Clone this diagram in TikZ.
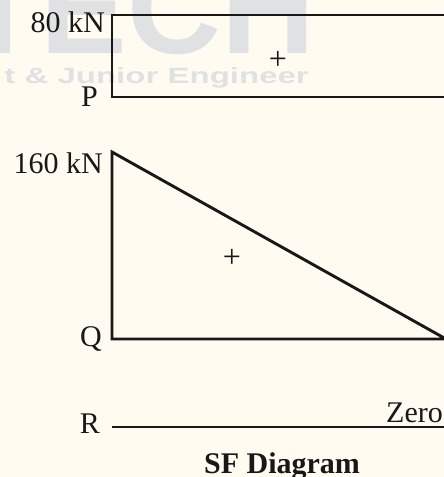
\documentclass[tikz,border=0pt]{standalone}
\usepackage{fontspec}
\setmainfont{Liberation Serif}
\newfontfamily\wmfont{Liberation Sans}
\usepackage{graphicx}
\usetikzlibrary{positioning}
\definecolor{papercream}{RGB}{255,251,240}
\definecolor{wmgray}    {RGB}{224,225,227}
\definecolor{inkblack}  {RGB}{24,24,24}

\begin{document}
\begin{tikzpicture}[
  x=1pt, y=-1pt,
  lbl/.style   ={inner sep=0pt, text=inkblack, font=\fontsize{30}{36}\selectfont},
  sgn/.style   ={inner sep=0pt, text=inkblack, font=\fontsize{32}{36}\selectfont},
  sfline/.style={draw=inkblack, line width=2.9pt, line join=miter},
  wmark/.style ={inner sep=0pt, text=wmgray},
]

\useasboundingbox (0,0) rectangle (444,477);
\fill[papercream] (0,0) rectangle (444,477);
\clip (0,0) rectangle (444,477);

%-- watermark
\node[wmark, anchor=base west, font=\wmfont\bfseries\fontsize{130}{130}\selectfont]
  (wmbig) at (-39,53) {TECH};
\node[wmark, anchor=base east, font=\wmfont\bfseries\fontsize{22}{26}\selectfont]
  (wmline) at (309,83) {\scalebox{1.5}[1]{t \& Junior Engineer}};

%-- P: constant part
\coordinate (Ptop)    at (112,15);
\coordinate (P)       at (112,97);
\coordinate (Ptopend) at (447,15);
\coordinate (Pend)    at (447,97);
\draw[sfline] (Ptopend) -- (Ptop) -- (P) -- (Pend);

\node[lbl, anchor=base east] (l80) at (105,32)  {80 kN};
\node[lbl, anchor=base east] (lP)  at (98,106)  {P};
\node[sgn] (plusP) at (278,60) {+};

%-- Q: linear part
\coordinate (Qtop) at (112,152);
\coordinate (Q)    at (112,339);
\coordinate (Qend) at (446,339);
\draw[sfline] (Qtop) -- (Q) -- (Qend) -- cycle;

\node[lbl, anchor=base east] (l160) at (103,173) {160 kN};
\node[lbl, anchor=base east] (lQ)   at (102,346) {Q};
\node[sgn] (plusQ) at (232,258) {+};

%-- R: zero shear
\coordinate (R)    at (112,427);
\coordinate (Rend) at (447,427);
\draw[sfline] (R) -- (Rend);

\node[lbl, anchor=base east] (lR)    at (100,433) {R};
\node[lbl, anchor=base east] (lzero) at (443,422) {Zero};

\node[lbl, anchor=base, font=\bfseries\fontsize{30}{36}\selectfont]
  (title) at (282,473) {SF Diagram};

\end{tikzpicture}
\end{document}
